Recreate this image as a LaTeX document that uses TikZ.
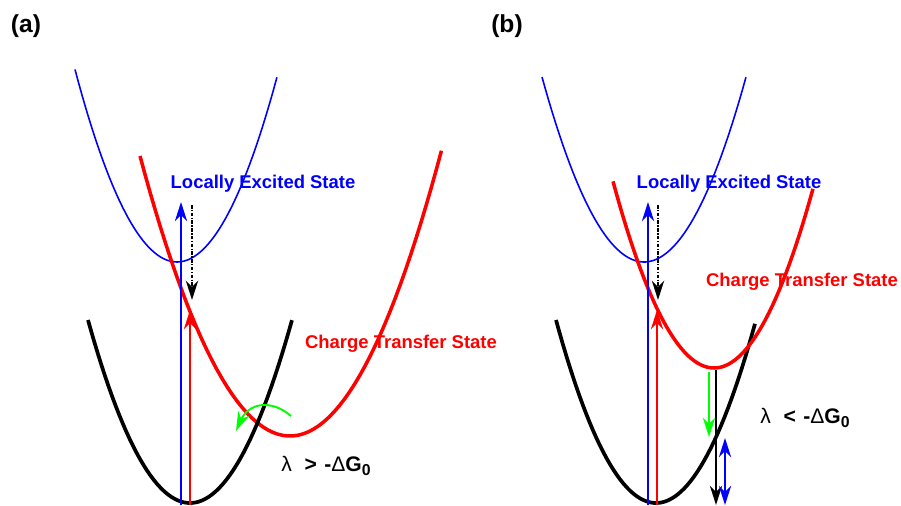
\documentclass[tikz,border=0pt]{standalone}
\usepackage{fontspec}
\setmainfont{Liberation Sans}
\usetikzlibrary{arrows.meta}
\begin{document}
\begin{tikzpicture}[x=0.02cm, y=-0.02cm,
        lecurve/.style={blue, line width=0.9pt},
        ctcurve/.style={red, line width=2pt},
        gscurve/.style={black, line width=2.1pt},
        trans/.style={-{Stealth[length=11pt, width=7pt]}, line width=1.1pt},
        relax/.style={trans, line width=1.3pt, dash pattern=on 2pt off 0.8pt on 0.8pt off 0.8pt},
        statelabel/.style={font=\fontsize{10.5}{12}\selectfont\bfseries, inner sep=0pt},
        ratelabel/.style={font=\fontsize{12}{14}\selectfont\bfseries, inner sep=0pt},
        panel/.style={font=\fontsize{14}{16}\selectfont\bfseries, inner sep=0pt}
    ]
    \useasboundingbox (0,0) rectangle (901,505);

    \node[panel] (pa) at (26,26) {(a)};
    \node[panel] (pb) at (507,26) {(b)};

    \draw[lecurve, domain=-1.02:1, samples=60] plot ({177+100*\x}, {262-185*\x*\x});
    \draw[ctcurve, domain=-1:1.01, samples=60] plot ({290+150*\x}, {436-280*\x*\x});
    \draw[gscurve, domain=-1:1, samples=60] plot ({190+102*\x}, {503-183*\x*\x});

    \coordinate (absa0) at (181,505);
    \coordinate (absa1) at (181,202);
    \coordinate (cta0) at (190,505);
    \coordinate (cta1) at (190,310);
    \coordinate (rla0) at (192,205);
    \coordinate (rla1) at (192,300);
    \coordinate (eta0) at (291,416);
    \coordinate (eta1) at (236,431);

    \draw[trans, blue] (absa0) -- (absa1);
    \draw[trans, red] (cta0) -- (cta1);
    \draw[relax] (rla0) -- (rla1);
    \draw[trans, green] (eta0) .. controls (270,398) and (248,404) .. (eta1);

    \node[statelabel, blue] (lea) at (263,184) {Locally Excited State};
    \node[statelabel, red] (cta) at (401,344) {Charge Transfer State};
    \node[ratelabel] (ra) at (326,466) {{\mdseries λ}\hspace{0.6em}>\hspace{0.35em}-{\mdseries Δ}G\raisebox{-0.35ex}{\fontsize{9}{9}\selectfont 0}};

    \draw[lecurve, domain=-1:1, samples=60] plot ({644+102*\x}, {262-185*\x*\x});
    \draw[gscurve, domain=-1:0.99, samples=60] plot ({656+100*\x}, {503-183*\x*\x});
    \draw[ctcurve, domain=-1.01:0.99, samples=60] plot ({714+100*\x}, {368-183*\x*\x});

    \coordinate (absb0) at (648,505);
    \coordinate (absb1) at (648,202);
    \coordinate (ctb0) at (657,505);
    \coordinate (ctb1) at (657,310);
    \coordinate (rlb0) at (658,205);
    \coordinate (rlb1) at (658,300);
    \coordinate (etb0) at (709,372);
    \coordinate (etb1) at (709,437);
    \coordinate (emb0) at (716,370);
    \coordinate (emb1) at (716,505);
    \coordinate (vib0) at (725,438);
    \coordinate (vib1) at (725,505);

    \draw[trans, blue] (absb0) -- (absb1);
    \draw[trans, red] (ctb0) -- (ctb1);
    \draw[relax] (rlb0) -- (rlb1);
    \draw[trans, green] (etb0) -- (etb1);
    \draw[trans] (emb0) -- (emb1);
    \draw[{Stealth[length=11pt, width=7pt]}-{Stealth[length=11pt, width=7pt]}, line width=1.1pt, blue] (vib0) -- (vib1);

    \node[statelabel, blue] (leb) at (729,184) {Locally Excited State};
    \node[statelabel, red] (ctb) at (802,282) {Charge Transfer State};
    \node[ratelabel] (rb) at (805,418) {{\mdseries λ}\hspace{0.6em}<\hspace{0.35em}-{\mdseries Δ}G\raisebox{-0.35ex}{\fontsize{9}{9}\selectfont 0}};
\end{tikzpicture}
\end{document}
